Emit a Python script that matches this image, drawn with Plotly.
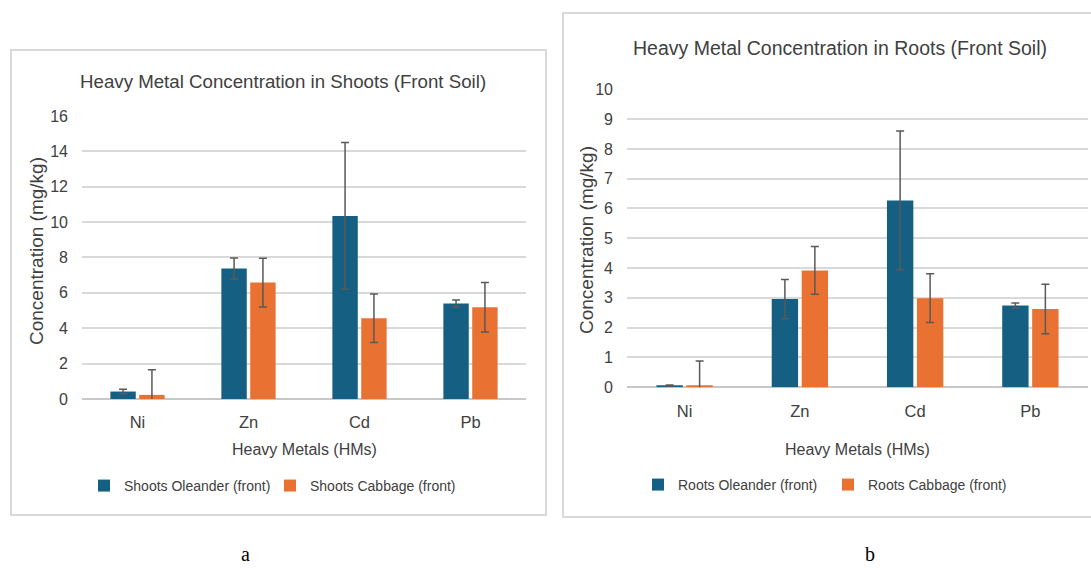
import plotly.graph_objects as go

categories = ["Ni", "Zn", "Cd", "Pb"]

shoots_oleander = [0.42, 7.37, 10.35, 5.40]
shoots_oleander_err = [0.13, 0.60, 4.15, 0.19]
shoots_cabbage = [0.23, 6.58, 4.56, 5.19]
shoots_cabbage_err = [1.42, 1.38, 1.37, 1.40]

roots_oleander = [0.06, 2.96, 6.27, 2.74]
roots_oleander_err = [0.02, 0.66, 2.33, 0.09]
roots_cabbage = [0.06, 3.92, 2.99, 2.63]
roots_cabbage_err = [0.82, 0.80, 0.82, 0.83]

BLUE = "#156082"
ORANGE = "#E97132"
ERR = "#595959"
TXT = "#404040"
GRID = "#d9d9d9"
FONT = "Liberation Sans, Arial, sans-serif"

W, H = 1091, 575
# the photographed page shows the figure offset and slightly compressed vertically
OFF, SC = 8.0, 0.9705


def px(x):
    return x / W


def py(y):
    fy = (y - OFF) / SC
    return (H - fy) / H


def bar(name, y, err, color, xa, ya, legend):
    return go.Bar(
        name=name, x=categories, y=y, marker=dict(color=color, line=dict(width=0)),
        error_y=dict(type="data", array=err, color=ERR, thickness=1.5, width=4),
        xaxis=xa, yaxis=ya, legend=legend,
    )


fig = go.Figure()
fig.add_trace(bar("Shoots Oleander (front)", shoots_oleander, shoots_oleander_err, BLUE, "x", "y", "legend"))
fig.add_trace(bar("Shoots Cabbage (front)", shoots_cabbage, shoots_cabbage_err, ORANGE, "x", "y", "legend"))
fig.add_trace(bar("Roots Oleander (front)", roots_oleander, roots_oleander_err, BLUE, "x2", "y2", "legend2"))
fig.add_trace(bar("Roots Cabbage (front)", roots_cabbage, roots_cabbage_err, ORANGE, "x2", "y2", "legend2"))

xcommon = dict(showgrid=False, showline=False, zeroline=False, ticks="",
               tickfont=dict(family=FONT, size=16.5, color=TXT), ticklabelstandoff=12)
ycommon = dict(showgrid=True, gridcolor=GRID, gridwidth=1.5, zeroline=True, zerolinecolor="#c8c8c8",
               zerolinewidth=1.5, showline=False, ticks="",
               tickfont=dict(family=FONT, size=16, color=TXT), ticklabelstandoff=13)

fig.update_layout(
    width=W, height=H, autosize=False,
    margin=dict(l=0, r=0, t=0, b=0),
    paper_bgcolor="white", plot_bgcolor="white",
    barmode="group", bargap=0.48, bargroupgap=0.12,
    xaxis=dict(domain=[px(82), px(526)], anchor="y", **xcommon),
    yaxis=dict(domain=[py(399), py(116)], anchor="x", range=[0, 16], dtick=2, **ycommon),
    xaxis2=dict(domain=[px(627), px(1088)], anchor="y2", **xcommon),
    yaxis2=dict(domain=[py(387.3), py(89.3)], anchor="x2", range=[0, 10], dtick=1, **ycommon),
    legend=dict(orientation="h", x=px(84), xanchor="left", y=py(486), yanchor="middle",
                font=dict(family=FONT, size=14, color=TXT), itemwidth=30,
                entrywidth=141, entrywidthmode="pixels",
                bgcolor="rgba(0,0,0,0)", tracegroupgap=0),
    legend2=dict(orientation="h", x=px(638), xanchor="left", y=py(485), yanchor="middle",
                 font=dict(family=FONT, size=14, color=TXT), itemwidth=30,
                 entrywidth=145, entrywidthmode="pixels",
                 bgcolor="rgba(0,0,0,0)", tracegroupgap=0),
    shapes=[
        dict(type="rect", xref="paper", yref="paper", x0=px(11), x1=px(546), y0=py(515), y1=py(50),
             line=dict(color=GRID, width=2), layer="below"),
        dict(type="rect", xref="paper", yref="paper", x0=px(563), x1=px(1096), y0=py(517), y1=py(13),
             line=dict(color=GRID, width=2), layer="below"),
    ],
    annotations=[
        dict(text="Heavy Metal Concentration in Shoots (Front Soil)", x=px(283), y=py(82),
             xref="paper", yref="paper", showarrow=False, xanchor="center", yanchor="middle",
             font=dict(family=FONT, size=18.7, color=TXT)),
        dict(text="Heavy Metal Concentration in Roots (Front Soil)", x=px(840), y=py(48),
             xref="paper", yref="paper", showarrow=False, xanchor="center", yanchor="middle",
             font=dict(family=FONT, size=19.5, color=TXT)),
        dict(text="Heavy Metals (HMs)", x=px(304), y=py(450), xref="paper", yref="paper",
             showarrow=False, xanchor="center", yanchor="middle",
             font=dict(family=FONT, size=16, color=TXT)),
        dict(text="Heavy Metals (HMs)", x=px(857), y=py(450), xref="paper", yref="paper",
             showarrow=False, xanchor="center", yanchor="middle",
             font=dict(family=FONT, size=16, color=TXT)),
        dict(text="Concentration (mg/kg)", x=px(37), y=py(251), xref="paper", yref="paper",
             showarrow=False, xanchor="center", yanchor="middle", textangle=-90,
             font=dict(family=FONT, size=19, color=TXT)),
        dict(text="Concentration (mg/kg)", x=px(587), y=py(240), xref="paper", yref="paper",
             showarrow=False, xanchor="center", yanchor="middle", textangle=-90,
             font=dict(family=FONT, size=19, color=TXT)),
        dict(text="a", x=px(245), y=0, xref="paper", yref="paper", showarrow=False, borderpad=0,
             xanchor="center", yanchor="bottom", font=dict(family="Liberation Serif, serif", size=20, color="black")),
        dict(text="b", x=px(870), y=0, xref="paper", yref="paper", showarrow=False, borderpad=0,
             xanchor="center", yanchor="bottom", font=dict(family="Liberation Serif, serif", size=20, color="black")),
    ],
)

fig.write_html("out.html", config={"displayModeBar": False},
               post_script="document.body.style.margin='0';document.body.style.padding='0';")
